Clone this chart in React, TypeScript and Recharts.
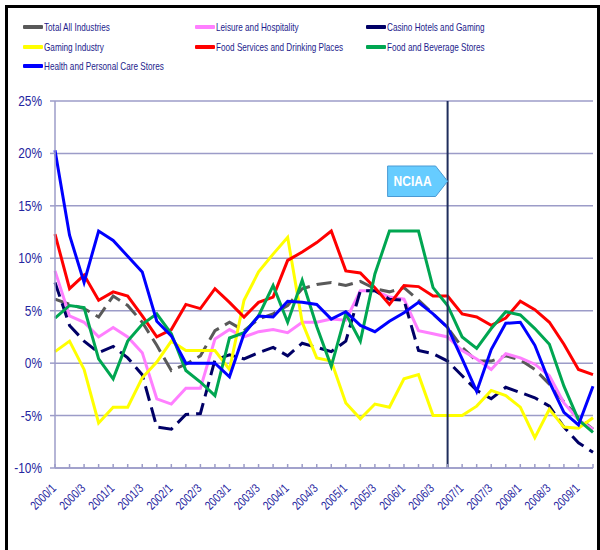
import React from 'react';
import { LineChart, Line, XAxis, YAxis, CartesianGrid, ReferenceLine, Legend } from 'recharts';

const quarters: string[] = [
  '2000/1', '2000/2', '2000/3', '2000/4', '2001/1', '2001/2', '2001/3', '2001/4',
  '2002/1', '2002/2', '2002/3', '2002/4', '2003/1', '2003/2', '2003/3', '2003/4',
  '2004/1', '2004/2', '2004/3', '2004/4', '2005/1', '2005/2', '2005/3', '2005/4',
  '2006/1', '2006/2', '2006/3', '2006/4', '2007/1', '2007/2', '2007/3', '2007/4',
  '2008/1', '2008/2', '2008/3', '2008/4', '2009/1', '2009/2',
];

const totalAllIndustries = [
  6.1, 5.6, 5.2, 4.4, 6.4, 5.5, 3.9, 1.7, -0.7, -0.1, 0.7, 3.1, 3.9, 3.1, 4.2, 4.7,
  5.5, 7.1, 7.5, 7.7, 7.4, 7.8, 7.1, 6.8, 7.2, 6.0, 4.7, 3.4, 1.5, 0.2, 0.2, 0.7,
  0.3, -0.6, -2.0, -3.7, -5.2, -6.3,
];
const leisureHospitality = [
  8.8, 4.5, 3.9, 2.5, 3.4, 2.5, 1.0, -3.4, -3.9, -2.4, -2.4, 2.3, 3.2, 2.5, 3.0, 3.2,
  2.9, 3.9, 3.9, 4.2, 4.1, 6.9, 6.9, 6.3, 6.1, 3.1, 2.8, 2.5, 1.2, 0.4, -0.6, 0.9,
  0.5, -0.1, -1.2, -3.8, -5.4, -6.3,
];
const casinoHotels = [
  7.7, 3.6, 2.1, 1.0, 1.6, 0.5, -1.1, -6.1, -6.3, -4.9, -4.8, 0.3, 0.8, 0.4, 1.0, 1.5,
  0.7, 1.9, 1.5, 1.1, 2.1, 6.9, 6.9, 6.1, 6.0, 1.2, 0.9, 0.2, -1.2, -2.6, -3.4, -2.3,
  -2.8, -3.3, -4.1, -6.1, -7.6, -8.5,
];
const gamingIndustry = [
  1.1, 2.1, -0.6, -5.7, -4.2, -4.2, -1.4, 0.1, 2.1, 1.2, 1.2, 1.2, -0.6, 6.0, 8.7, 10.4,
  12.0, 3.9, 0.5, 0.2, -3.8, -5.3, -3.9, -4.2, -1.5, -1.1, -5.0, -5.0, -5.0, -4.1, -2.6, -3.1,
  -4.2, -7.1, -4.4, -6.1, -6.2, -5.2,
];
const foodServices = [
  12.3, 7.1, 8.4, 6.0, 6.8, 6.4, 4.5, 2.5, 3.2, 5.6, 5.2, 7.1, 5.8, 4.4, 5.8, 6.3,
  9.8, 10.6, 11.5, 12.6, 8.8, 8.6, 7.2, 5.6, 7.4, 7.3, 6.4, 6.4, 4.7, 4.4, 3.6, 4.3,
  5.9, 5.1, 3.9, 1.8, -0.6, -1.1,
];
const foodBeverageStores = [
  4.3, 5.5, 5.3, 0.4, -1.5, 2.1, 3.7, 4.7, 2.8, -0.7, -1.8, -3.1, 2.4, 2.9, 4.5, 7.4,
  3.9, 7.9, 3.5, -0.3, 4.7, 2.1, 8.5, 12.6, 12.6, 12.6, 7.2, 5.5, 2.5, 1.4, 3.3, 4.9,
  4.6, 3.3, 1.8, -2.2, -5.4, -6.6,
];
const healthPersonalCare = [
  20.3, 12.2, 7.7, 12.6, 11.7, 10.2, 8.7, 4.0, 2.6, 0.0, 0.0, 0.0, -1.3, 2.8, 4.5, 4.4,
  5.9, 5.8, 5.6, 4.2, 4.9, 3.6, 3.0, 4.0, 4.8, 5.8, 4.7, 3.4, 0.4, -2.7, 1.3, 3.8,
  3.9, 1.7, -1.8, -4.7, -5.9, -2.2,
];

const yTicks = [-10, -5, 0, 5, 10, 15, 20, 25];
const eventQuarter = '2006/4';
const eventLabel = 'NCIAA';

const data = quarters.map((q, i) => ({
  q,
  total: totalAllIndustries[i],
  leisure: leisureHospitality[i],
  casino: casinoHotels[i],
  gaming: gamingIndustry[i],
  foodServ: foodServices[i],
  foodBev: foodBeverageStores[i],
  health: healthPersonalCare[i],
}));

const series = [
  { key: 'total', name: 'Total All Industries', color: '#595959', dash: '15 7' },
  { key: 'leisure', name: 'Leisure and Hospitality', color: '#FF7FFF' },
  { key: 'casino', name: 'Casino Hotels and Gaming', color: '#000066', dash: '15 7' },
  { key: 'gaming', name: 'Gaming Industry', color: '#FFFF00' },
  { key: 'foodServ', name: 'Food Services and Drinking Places', color: '#FF0000' },
  { key: 'foodBev', name: 'Food and Beverage Stores', color: '#00A651' },
  { key: 'health', name: 'Health and Personal Care Stores', color: '#0000FF' },
];

const FONT = "'Liberation Sans', Arial, sans-serif";
const AXIS = '#9C9CC8';
const TEXT = '#2525A0';

const XTick = (props: any) => {
  const { x, y, payload } = props;
  const idx = payload.index;
  const ax = x + 2;
  const ay = y + 21;
  return (
    <g>
      <line x1={x} y1={y - 4} x2={x} y2={y} stroke={AXIS} strokeWidth={1.5} />
      {idx % 2 === 0 && (
        <text
          x={0}
          y={0}
          transform={`translate(${ax},${ay}) rotate(-45) scale(0.8,1)`}
          textAnchor="end"
          fill={TEXT}
          fontSize={12.5}
          fontFamily={FONT}
        >
          {payload.value}
        </text>
      )}
    </g>
  );
};

const YTick = (props: any) => {
  const { x, y, payload } = props;
  return (
    <text
      x={0}
      y={0}
      dy="0.36em"
      transform={`translate(${x},${y}) scale(0.85,1)`}
      textAnchor="end"
      fill={TEXT}
      fontSize={14}
      fontFamily={FONT}
    >
      {`${payload.value}%`}
    </text>
  );
};

const LegendBox = () => {
  const colX = [23, 195, 366];
  const rowY = [27, 46.5, 65.5];
  return (
    <div style={{ position: 'relative', width: 600, height: 80 }}>
      {series.map((s, i) => {
        const col = i % 3;
        const row = Math.floor(i / 3);
        return (
          <div
            key={s.key}
            style={{ position: 'absolute', left: colX[col], top: rowY[row] - 8, height: 16, display: 'flex', alignItems: 'center', whiteSpace: 'nowrap' }}
          >
            <div style={{ width: 20, height: 4, background: s.color, borderRadius: 1 }} />
            <span
              style={{
                marginLeft: 1,
                fontFamily: FONT,
                fontSize: 11.5,
                lineHeight: '16px',
                color: '#1C1C8C',
                display: 'inline-block',
                transform: 'scaleX(0.71)',
                transformOrigin: 'left center',
              }}
            >
              {s.name}
            </span>
          </div>
        );
      })}
    </div>
  );
};

const EventTag = (props: any) => {
  const vb = props.viewBox || {};
  const x = vb.x;
  const top = vb.y + 65;
  const h = 30.5;
  const pts = [
    [x - 60, top],
    [x - 12, top],
    [x, top + h / 2],
    [x - 12, top + h],
    [x - 60, top + h],
  ]
    .map((p) => p.join(','))
    .join(' ');
  return (
    <g>
      <polygon points={pts} fill="#66CCFF" stroke="#4A9AD4" strokeWidth={1} />
      <text
        x={0}
        y={0}
        transform={`translate(${x - 35},${top + h / 2 + 5}) scale(0.83,1)`}
        textAnchor="middle"
        fill="#FFFFFF"
        fontWeight="bold"
        fontSize={14.5}
        fontFamily={FONT}
      >
        {eventLabel}
      </text>
    </g>
  );
};

export default function App() {
  return (
    <div style={{ position: 'absolute', left: 0, top: 0, width: 600, height: 550, overflow: 'hidden', background: '#FFFFFF' }}>
      <LineChart width={600} height={550} data={data} margin={{ top: 21, right: 7, bottom: 0, left: 0 }}>
        <Legend verticalAlign="top" align="left" wrapperStyle={{ top: 0, left: 0, width: 600, height: 80 }} content={<LegendBox />} />
        <CartesianGrid vertical={false} stroke={AXIS} strokeWidth={1.5} />
        <XAxis
          dataKey="q"
          interval={0}
          height={82}
          tickSize={0}
          tickMargin={0}
          tick={<XTick />}
          axisLine={{ stroke: AXIS, strokeWidth: 1.5 }}
          tickLine={false}
        />
        <YAxis
          width={55}
          domain={[-10, 25]}
          ticks={yTicks}
          interval={0}
          tickSize={5}
          tickMargin={8}
          tick={<YTick />}
          axisLine={{ stroke: AXIS, strokeWidth: 1.5 }}
          tickLine={{ stroke: AXIS, strokeWidth: 1.5 }}
        />
        {series.map((s) => (
          <Line
            key={s.key}
            type="linear"
            dataKey={s.key}
            name={s.name}
            stroke={s.color}
            strokeWidth={3}
            strokeDasharray={s.dash}
            dot={false}
            activeDot={false}
            isAnimationActive={false}
          />
        ))}
        <ReferenceLine x={eventQuarter} stroke="#1F2D5C" strokeWidth={2} label={(p: any) => <EventTag {...p} />} />
      </LineChart>
      <div
        style={{
          position: 'absolute',
          left: 5,
          top: 5,
          width: 595,
          height: 600,
          boxSizing: 'border-box',
          border: '3px solid #000000',
          pointerEvents: 'none',
        }}
      />
    </div>
  );
}
